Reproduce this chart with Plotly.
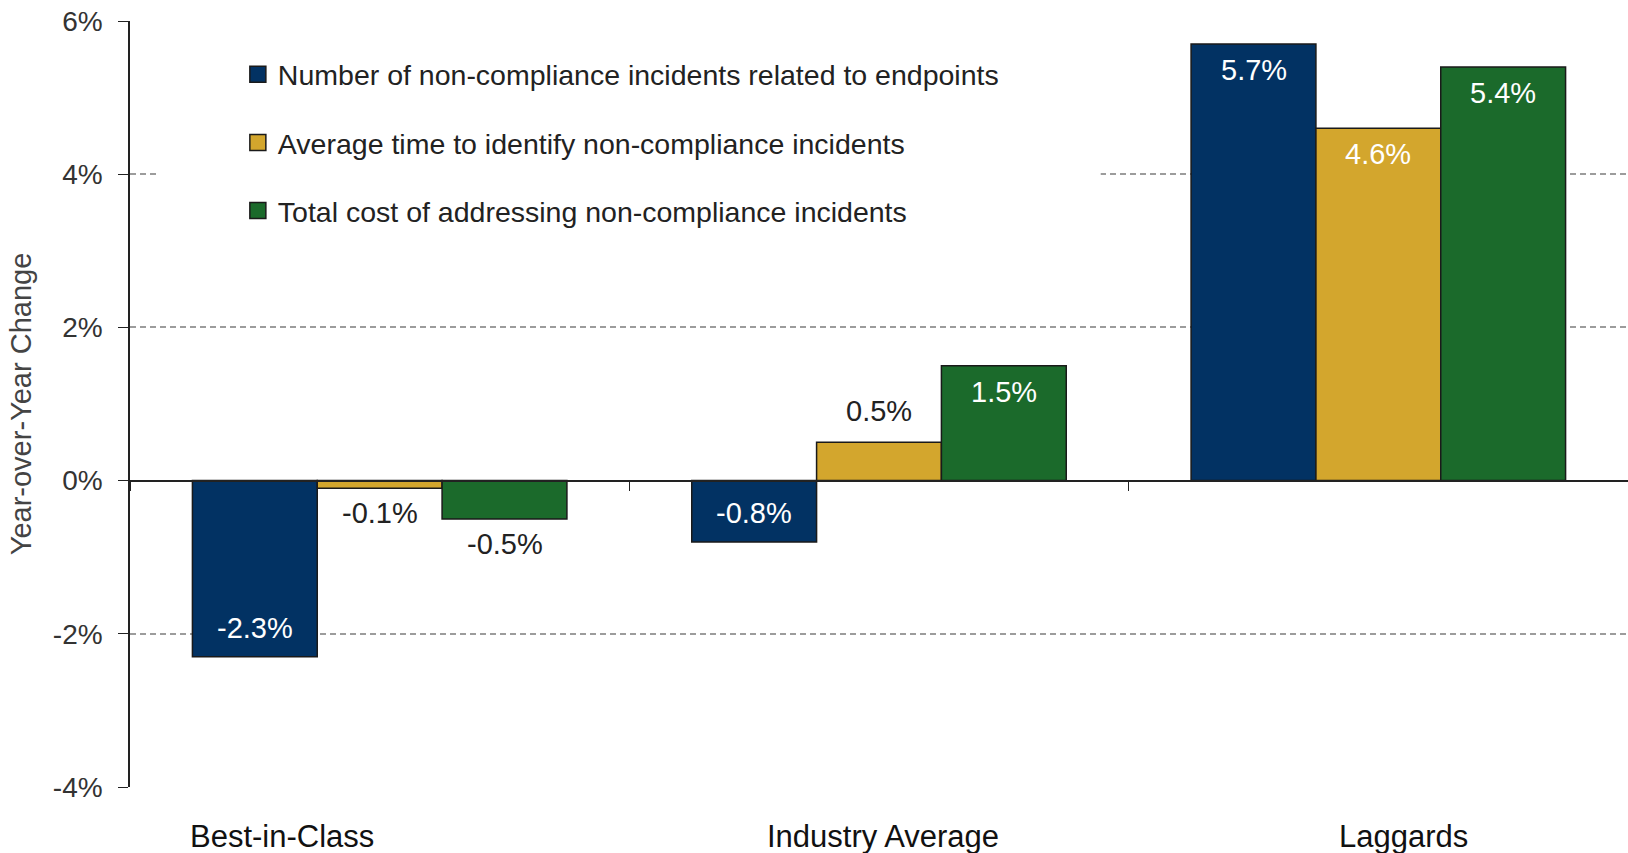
import plotly.graph_objects as go

categories = ["Best-in-Class", "Industry Average", "Laggards"]
series_names = [
    "Number of non-compliance incidents related to endpoints",
    "Average time to identify non-compliance incidents",
    "Total cost of addressing non-compliance incidents",
]
incidents = [-2.3, -0.8, 5.7]
time_to_identify = [-0.1, 0.5, 4.6]
total_cost = [-0.5, 1.5, 5.4]
label_inside = [
    [True, True, True],
    [False, False, True],
    [False, True, True],
]
colors = ["#023263", "#D3A62D", "#1B6A2B"]
y_tick_vals = [-4, -2, 0, 2, 4, 6]
y_tick_text = ["-4%", "-2%", "0%", "2%", "4%", "6%"]
label_shifts = [-98, 4, 25]

FONT = "Liberation Sans, Arial, sans-serif"
BARGAP = 0.25

fig = go.Figure()
all_vals = [incidents, time_to_identify, total_cost]
n_series = len(all_vals)
bar_w = (1 - BARGAP) / n_series
for j, (name, vals, inside, col) in enumerate(zip(series_names, all_vals, label_inside, colors)):
    fig.add_trace(go.Bar(
        x=categories, y=vals, name=name,
        marker=dict(color=col, line=dict(color="#1a1a1a", width=1.5)),
        showlegend=False, hoverinfo="skip",
    ))
    fig.add_trace(go.Scatter(
        x=[None], y=[None], mode="markers", name=name,
        marker=dict(symbol="square", size=16, color=col, line=dict(color="#1a1a1a", width=1.5)),
        legendgroup=name, showlegend=True,
    ))
    # value labels placed at each bar's end through the axis scales
    for i, (v, ins) in enumerate(zip(vals, inside)):
        xpos = i + (j - (n_series - 1) / 2) * bar_w
        if ins:
            anchor = "top" if v >= 0 else "bottom"
            shift = -8 if v >= 0 else 11
            color = "white"
        else:
            anchor = "bottom" if v >= 0 else "top"
            shift = 13 if v >= 0 else -7
            color = "#222222"
        fig.add_annotation(
            x=xpos, y=v, xref="x", yref="y", text=f"{v:.1f}%", showarrow=False,
            yanchor=anchor, yshift=shift, font=dict(size=29, color=color, family=FONT),
        )

for cat, sh in zip(categories, label_shifts):
    fig.add_annotation(
        x=cat, y=0, xref="x", yref="paper", yshift=-49, xshift=sh,
        text=cat, showarrow=False, yanchor="middle",
        font=dict(size=31, color="#111111", family=FONT),
    )

# mask grid line behind legend
fig.add_shape(type="rect", xref="paper", yref="y", x0=0.018, x1=0.648, y0=3.7, y1=4.3,
              fillcolor="white", line=dict(width=0), layer="above")

fig.update_layout(
    width=1628, height=853,
    margin=dict(l=130, r=0, t=21, b=66),
    paper_bgcolor="white", plot_bgcolor="white",
    barmode="group", bargap=BARGAP, bargroupgap=0,
    font=dict(family=FONT, color="#333333"),
    legend=dict(
        x=0.072, y=0.963, xanchor="left", yanchor="top",
        bgcolor="rgba(0,0,0,0)", font=dict(size=28.5, color="#222222", family=FONT),
        traceorder="grouped", tracegroupgap=28, itemwidth=30,
    ),
    xaxis=dict(
        anchor="free", position=0.4, showline=True, linecolor="#222222", linewidth=1.5,
        ticks="outside", tickson="boundaries", ticklen=10, tickcolor="#222222",
        showticklabels=False, showgrid=False, zeroline=False,
    ),
    yaxis=dict(
        range=[-4, 6], tickvals=y_tick_vals, ticktext=y_tick_text,
        showline=True, linecolor="#222222", linewidth=1.5,
        ticks="outside", ticklen=10, tickcolor="#222222", ticklabelstandoff=10,
        tickfont=dict(size=28, color="#333333", family=FONT),
        showgrid=True, gridcolor="#9c9c9c", gridwidth=2, griddash="6px,4px",
        zeroline=False,
        title=dict(text="Year-over-Year Change", font=dict(size=29, color="#444444", family=FONT), standoff=13),
    ),
)

fig.write_html("out.html", config={"displayModeBar": False},
               post_script="document.body.style.margin='0px';")
